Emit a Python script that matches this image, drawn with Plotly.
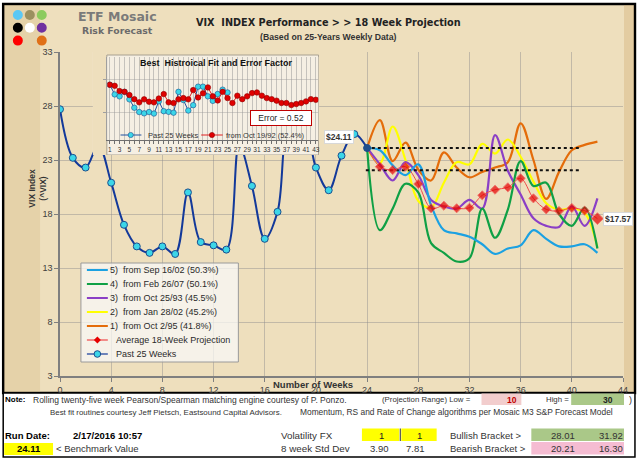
import plotly.graph_objects as go

# ---- values ----
past_weeks = list(range(0, 25))
past_vix = [27.7, 23.2, 22.3, 24.4, 20.9, 17.0, 15.0, 14.4, 15.0, 14.3, 20.0, 15.4, 15.1, 14.7,
            24.4, 20.6, 15.7, 18.2, 26.8, 26.8, 22.3, 20.2, 23.4, 25.4, 24.11]

proj_weeks = list(range(24, 43))
proj_oct95 = [24.11, 26.7, 22.9, 24.6, 22.1, 21.1, 23.7, 22.3, 21.4, 21.9, 22.3, 22.8, 26.4, 23.0, 19.4, 21.9, 23.9, 24.4, 24.7]
proj_jan02 = [24.11, 22.7, 26.1, 23.0, 19.2, 18.6, 20.9, 22.8, 22.6, 24.5, 23.6, 24.9, 23.3, 21.0, 19.0, 18.4, 18.5, 18.1, 14.9]
proj_oct93 = [24.11, 22.6, 21.1, 22.8, 21.6, 19.3, 18.7, 18.5, 19.3, 18.5, 25.3, 22.0, 19.8, 17.6, 16.9, 16.8, 18.7, 16.9, 19.45]
proj_feb07 = [24.11, 16.5, 18.5, 20.8, 20.0, 15.3, 14.4, 13.6, 13.9, 18.5, 15.8, 18.4, 22.9, 20.6, 20.9, 18.0, 16.9, 18.6, 14.8]
proj_sep02 = [24.11, 23.9, 22.5, 21.6, 22.6, 18.8, 16.5, 16.2, 15.9, 15.2, 14.3, 14.8, 15.1, 16.5, 15.7, 15.0, 15.0, 15.2, 14.4]
avg_proj = [24.11, 22.38, 22.07, 22.38, 20.78, 18.53, 18.77, 18.53, 18.58, 19.73, 20.25, 20.47, 21.30,
            19.45, 18.43, 18.28, 18.56, 18.31, 17.57]

proj_names = ['5)  from Sep 16/02 (50.3%)', '4)  from Feb 26/07 (50.1%)', '3)  from Oct 25/93 (45.5%)',
              '2)  from Jan 28/02 (45.2%)', '1)  from Oct 2/95 (41.8%)']
avg_name = 'Average 18-Week Projection'
past_name = 'Past 25 Weeks'

# dotted bracket lines
bracket_levels = [24.11, 22.04]
bracket_from = [23.9, 23.9]
bracket_to = 40.7

# inset: best historical fit
fit_index = list(range(1, 44))
fit_oct92 = [27.7, 27.2, 24.75, 24.4, 22.9, 21.0, 19.5, 20.9, 19.8, 19.5, 21.3, 23.35, 19.5, 19.2, 20.9,
             21.5, 20.9, 25.2, 21.8, 23.7, 26.45, 22.3, 20.4, 24.4, 21.5, 19.2, 22.6, 21.0, 22.3, 23.8,
             24.1, 22.6, 21.5, 21.0, 20.3, 19.2, 19.2, 18.25, 18.7, 19.2, 19.95, 21.0, 20.7]
fit_name = 'from Oct 19/92 (52.4%)'
fit_error = 0.52

# table under the chart
run_date = '2/17/2016 10:57'
benchmark = 24.11
range_low, range_high = 10, 30
vol_fx = [1, 1]
std_dev = [3.90, 7.81]
bullish = [28.01, 31.92]
bearish = [20.21, 16.30]

ARIAL = 'Liberation Sans, Arial, sans-serif'
VERD = 'DejaVu Sans, Verdana, sans-serif'
PARCH = '#EEDFBD'
LIGHT = '#F5EFE3'

# plot area in pixels
L, T, W, H = 60, 52, 565, 324


def px(x):
    return (x - L) / W


def py(y):
    return (T + H - y) / H


def rect(x0, y0, x1, y1, fill='rgba(0,0,0,0)', line='rgba(0,0,0,0)', width=0, layer='below'):
    return dict(type='rect', xref='paper', yref='paper', x0=px(x0), x1=px(x1), y0=py(y1), y1=py(y0),
                fillcolor=fill, line=dict(color=line, width=width), layer=layer)


def circle(cx, cy, r, fill, line='rgba(0,0,0,0)', width=0, layer='above'):
    return dict(type='circle', xref='paper', yref='paper', x0=px(cx - r), x1=px(cx + r),
                y0=py(cy + r), y1=py(cy - r), fillcolor=fill, line=dict(color=line, width=width), layer=layer)


def diamond(cx, cy, r, fill):
    path = 'M {} {} L {} {} L {} {} L {} {} Z'.format(px(cx), py(cy - r), px(cx + r), py(cy),
                                                      px(cx), py(cy + r), px(cx - r), py(cy))
    return dict(type='path', xref='paper', yref='paper', path=path, fillcolor=fill,
                line=dict(color=fill, width=0), layer='above')


def hline(x0, x1, y, color, width):
    return dict(type='line', xref='paper', yref='paper', x0=px(x0), x1=px(x1), y0=py(y), y1=py(y),
                line=dict(color=color, width=width), layer='above')


def ann(x, y, text, size=9, color='#222', bold=False, anchor='left', family=ARIAL, **kw):
    if bold:
        text = '<b>' + text + '</b>'
    return dict(x=px(x), y=py(y), xref='paper', yref='paper', text=text, showarrow=False,
                xanchor=anchor, yanchor='middle', font=dict(size=size, color=color, family=family), **kw)


fig = go.Figure()

# invisible trace so the inset's cover panel (x2/y2) exists
fig.add_trace(go.Scatter(x=[None], y=[None], xaxis='x2', yaxis='y2', showlegend=False, hoverinfo='skip'))

proj_series = [
    (proj_names[4], proj_oct95, '#E46C0A'),
    (proj_names[3], proj_jan02, '#FFFF00'),
    (proj_names[2], proj_oct93, '#8B3FC6'),
    (proj_names[1], proj_feb07, '#0FA045'),
    (proj_names[0], proj_sep02, '#1BA1E2'),
]
for name, vals, color in proj_series:
    fig.add_trace(go.Scatter(x=proj_weeks, y=vals, mode='lines', name=name, showlegend=False,
                             line=dict(color=color, width=2.2, shape='spline', smoothing=1)))

for lvl, x0 in zip(bracket_levels, bracket_from):
    fig.add_trace(go.Scatter(x=[x0, bracket_to], y=[lvl, lvl], mode='lines', showlegend=False,
                             line=dict(color='#111111', width=2, dash='dot')))

avg_sizes = [0] + [7] * (len(avg_proj) - 2) + [9]
fig.add_trace(go.Scatter(x=proj_weeks, y=avg_proj, mode='lines+markers', name=avg_name, showlegend=False,
                         line=dict(color='#F0484A', width=1, shape='spline'),
                         marker=dict(symbol='diamond', size=avg_sizes, color='#E60000')))

past_colors = ['#3CD6E8'] * (len(past_vix) - 1) + ['#1F4E8C']
fig.add_trace(go.Scatter(x=past_weeks, y=past_vix, mode='lines+markers', name=past_name, showlegend=False,
                         line=dict(color='#13399A', width=2, shape='spline', smoothing=1),
                         marker=dict(size=7, color=past_colors, line=dict(color='#1B4F8F', width=1))))

# inset chart
fig.add_trace(go.Scatter(x=fit_index[:len(past_vix)], y=past_vix, mode='lines+markers', name=past_name,
                         xaxis='x3', yaxis='y3', showlegend=False,
                         line=dict(color='#2050A0', width=1),
                         marker=dict(size=5.5, color='#3CD6E8', line=dict(color='#1B4F8F', width=0.6))))
fig.add_trace(go.Scatter(x=fit_index, y=fit_oct92, mode='lines+markers', name=fit_name,
                         xaxis='x3', yaxis='y3', showlegend=False,
                         line=dict(color='#E02020', width=1),
                         marker=dict(size=5.5, color='#E00000', line=dict(color='#900000', width=0.6))))

shapes = []
# parchment frame and table box
shapes.append(rect(3, 4, 637, 393, fill=PARCH, line='#000000', width=2.5))
shapes.append(rect(4, 5, 40, 392, fill='rgba(205,170,110,0.25)'))
shapes.append(rect(626, 5, 636, 392, fill='rgba(205,170,110,0.35)'))
shapes.append(rect(3, 393, 637, 457, fill='#FFFFFF', line='#000000', width=1.5))

# header dots
dot_colors = ['#5BC8F5', '#9C9060', '#8CCB5E', '#000000', '#FFFFFF', '#7030A0', '#FF0000', None, '#E07018']
for i, c in enumerate(dot_colors):
    if c:
        shapes.append(circle(17.7 + 12 * (i % 3), 15 + 12.8 * (i // 3), 5, c))

# table cells
shapes.append(rect(483, 393.5, 523, 405, fill='#F2CDCD'))
shapes.append(rect(573, 393.5, 626, 405, fill='#AAC888'))
shapes.append(rect(363, 428.5, 400.5, 441, fill='#FFFF00'))
shapes.append(rect(402.5, 428.5, 438, 441, fill='#FFFF00'))
shapes.append(dict(type='line', xref='paper', yref='paper', x0=px(401.5), x1=px(401.5),
                   y0=py(441), y1=py(428.5), line=dict(color='#333333', width=1)))
shapes.append(rect(533, 428.5, 626, 441, fill='#AAC888'))
shapes.append(rect(533, 442, 626, 454.5, fill='#F5BCD2'))
shapes.append(rect(4, 443, 53, 455, fill='#FFFF00'))

# inset cover (drawn on x2/y2, pixel units)
for x0, y0, x1, y1, fill, lc in [(93, 52, 107, 155, PARCH, None), (107, 52, 320, 55, PARCH, None),
                                 (107, 55, 319.5, 155, None, '#A8A090')]:
    shapes.append(dict(type='rect', xref='x2', yref='y2', x0=x0, x1=x1, y0=y0, y1=y1, layer='below',
                       fillcolor=fill or 'rgba(0,0,0,0)',
                       line=dict(color=lc or 'rgba(0,0,0,0)', width=1 if lc else 0)))

annotations = []

# main legend
shapes.append(rect(81, 263, 239, 362, fill='rgba(250,250,250,0.72)', line='#9A9A9A', width=1, layer='above'))
legend_rows = [(proj_names[0], '#1BA1E2', None), (proj_names[1], '#0FA045', None),
               (proj_names[2], '#8B3FC6', None), (proj_names[3], '#FFFF00', None),
               (proj_names[4], '#E46C0A', None), (avg_name, '#F0484A', 'diamond'),
               (past_name, '#13399A', 'circle')]
for i, (name, color, sym) in enumerate(legend_rows):
    yy = 270 + 14 * i
    shapes.append(hline(87, 108, yy, color, 2 if sym is None else 1.2))
    if sym == 'diamond':
        shapes.append(diamond(97.5, yy, 3.5, '#E60000'))
    elif sym == 'circle':
        shapes.append(circle(97.5, yy, 3.3, '#3CD6E8', line='#1B4F8F', width=1))
    annotations.append(ann(108 if sym is None else 114, yy, name, size=9, color='#2A2A2A'))

# inset legend and labels
shapes.append(hline(120.7, 141.7, 135, '#2050A0', 1))
shapes.append(circle(131, 135, 2.6, '#3CD6E8', line='#1B4F8F', width=0.6))
shapes.append(hline(201.7, 223.3, 135, '#E02020', 1))
shapes.append(circle(212.5, 135, 2.6, '#E00000', line='#900000', width=0.6))
annotations.append(ann(146, 135, past_name, size=7.5, color='#333333'))
annotations.append(ann(224.5, 135, fit_name, size=7.5, color='#333333'))
annotations.append(ann(216.7, 62.5, 'Best  Histroical Fit and Error Factor', size=9, color='#111111',
                       bold=True, anchor='center'))
annotations.append(ann(282, 117.5, 'Error = {:.2f}'.format(fit_error), size=8.5, color='#222222',
                       anchor='center', bgcolor='#FFFFFF', bordercolor='#C00000', borderwidth=1,
                       borderpad=2, width=56))

# header
annotations.append(ann(118, 16.5, 'ETF Mosaic', size=12.5, color='#7A7A7A', bold=True, anchor='center', family=VERD))
annotations.append(ann(118, 31, 'Risk Forecast', size=9.3, color='#6B6B6B', bold=True, anchor='center', family=VERD))
annotations.append(ann(329, 22.5, 'VIX  INDEX Performance > > 18 Week Projection', size=9.7, color='#222222',
                       bold=True, anchor='center', family=VERD))
annotations.append(ann(329, 37.5, '(Based on 25-Years Weekly Data)', size=8.7, color='#333333',
                       bold=True, anchor='center'))
annotations.append(dict(x=px(24), y=py(188), xref='paper', yref='paper', text='<b>VIX Index<br>(^VIX)</b>',
                        showarrow=False, textangle=-90, font=dict(size=8.5, color='#333333', family=ARIAL)))
annotations.append(ann(314, 385, 'Number of Weeks', size=9.5, color='#333333', bold=True, anchor='center'))

# value tags
annotations.append(dict(x=past_weeks[-1], y=past_vix[-1], xref='x', yref='y', text='<b>${:.2f}</b>'.format(past_vix[-1]),
                        showarrow=False, xshift=-28, yshift=11, bgcolor='#FFFFFF', bordercolor='#D8D8D8',
                        borderwidth=1, borderpad=1, font=dict(size=8.5, color='#333333', family=ARIAL)))
annotations.append(dict(x=proj_weeks[-1], y=avg_proj[-1], xref='x', yref='y', text='<b>${:.2f}</b>'.format(avg_proj[-1]),
                        showarrow=False, xshift=21, bgcolor='#FFFFFF', bordercolor='#D8D8D8',
                        borderwidth=1, borderpad=1, font=dict(size=8.5, color='#333333', family=ARIAL)))

# notes and table text
annotations += [
    ann(3, 399.5, 'Note:', size=8, color='#000000', bold=True),
    ann(31, 399.5, 'Rolling twenty-five week Pearson/Spearman matching engine courtesy of P. Ponzo.', size=8.5, color='#333333'),
    ann(381, 399.5, '(Projection Range) Low =', size=7.8, color='#333333'),
    ann(521, 399.5, str(range_low), size=8.5, color='#C00000', bold=True, anchor='right'),
    ann(546, 399.5, 'High =', size=7.8, color='#333333'),
    ann(617, 399.5, str(range_high), size=8.5, color='#222222', bold=True, anchor='right'),
    ann(629, 399.5, ')', size=9, color='#333333'),
    ann(48, 412, 'Best fit routines courtesy Jeff Pietsch, Eastsound Capital Advisors.', size=7.9, color='#333333'),
    ann(299, 412, 'Momentum, RS and Rate of Change algorithms per Mosaic M3 S&P Forecast Model', size=8.4, color='#333333'),
    ann(3, 435.5, 'Run Date:', size=9.5, color='#000000', bold=True),
    ann(71, 435.5, run_date, size=9.5, color='#000000', bold=True),
    ann(28.5, 449, '{:.2f}'.format(benchmark), size=9.5, color='#000000', bold=True, anchor='center'),
    ann(54, 449, '< Benchmark Value', size=9.5, color='#333333'),
    ann(280, 435.5, 'Volatility FX', size=9.8, color='#333333'),
    ann(280, 449, '8 week Std Dev', size=9.8, color='#333333'),
    ann(383, 435.5, str(vol_fx[0]), size=9.5, color='#222222', anchor='center'),
    ann(421, 435.5, str(vol_fx[1]), size=9.5, color='#222222', anchor='center'),
    ann(380.5, 449, '{:.2f}'.format(std_dev[0]), size=9.5, color='#333333', anchor='center'),
    ann(416.5, 449, '{:.2f}'.format(std_dev[1]), size=9.5, color='#333333', anchor='center'),
    ann(449, 435.5, 'Bullish Bracket >', size=9.5, color='#333333'),
    ann(449, 449, 'Bearish Bracket >', size=9.5, color='#333333'),
    ann(579, 435.5, '{:.2f}'.format(bullish[0]), size=9.5, color='#333333', anchor='right'),
    ann(627, 435.5, '{:.2f}'.format(bullish[1]), size=9.5, color='#333333', anchor='right'),
    ann(579, 449, '{:.2f}'.format(bearish[0]), size=9.5, color='#333333', anchor='right'),
    ann(627, 449, '{:.2f}'.format(bearish[1]), size=9.5, color='#333333', anchor='right'),
]

grid = 'rgba(140,140,140,0.45)'
axis_font = dict(size=9, color='#404040', family=ARIAL)
fig.update_layout(
    width=640, height=460,
    margin=dict(l=L, r=640 - L - W, t=T, b=460 - T - H),
    paper_bgcolor='#FFFFFF', plot_bgcolor=LIGHT,
    showlegend=False,
    xaxis=dict(range=[0, 44], tick0=0, dtick=4, showgrid=True, gridcolor=grid, zeroline=False,
               showline=True, linecolor='#7F7F7F', linewidth=1.5, ticks='outside', ticklen=4,
               tickcolor='#7F7F7F', tickfont=axis_font),
    yaxis=dict(range=[3, 33], tick0=3, dtick=5, showgrid=True, gridcolor=grid, zeroline=False,
               showline=True, linecolor='#7F7F7F', linewidth=1.5, ticks='outside', ticklen=4,
               tickcolor='#7F7F7F', tickfont=axis_font),
    xaxis2=dict(domain=[px(93), px(320)], range=[93, 320], visible=False, anchor='y2', fixedrange=True),
    yaxis2=dict(domain=[py(155), py(52)], range=[155, 52], visible=False, anchor='x2', fixedrange=True),
    xaxis3=dict(domain=[px(107.5), px(319.2)], range=[0.5, 43.5], anchor='y3',
                tickvals=fit_index, ticktext=[str(i) if i % 2 else '' for i in fit_index],
                showgrid=True, gridcolor='rgba(150,150,150,0.5)', zeroline=False,
                showline=True, linecolor='#6F6F6F', ticks='outside', ticklen=3, tickcolor='#6F6F6F',
                tickfont=dict(size=6.5, color='#333333', family=ARIAL), tickangle=0),
    yaxis3=dict(domain=[py(140), py(57)], range=[2, 40.6], anchor='x3', tickvals=[15, 30],
                showticklabels=False, showgrid=True, gridcolor='rgba(150,150,150,0.4)', zeroline=False,
                showline=True, linecolor='#9F9F9F', ticks='outside', ticklen=3, tickcolor='#9F9F9F'),
    shapes=shapes,
    annotations=annotations,
)

fig.write_html('out.html', config={'displayModeBar': False},
               post_script="document.body.style.margin='0';")
